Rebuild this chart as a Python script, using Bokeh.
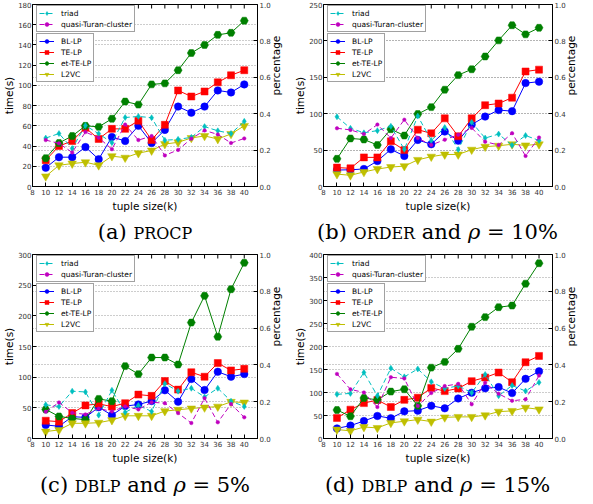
import math
from bokeh.plotting import figure
from bokeh.models import (Range1d, LinearAxis, FixedTicker, PrintfTickFormatter,
                          Grid, Legend, LegendItem, Div)
from bokeh.layouts import column, row
from bokeh.embed import file_html
from bokeh.resources import INLINE

tuple_size = [10, 12, 14, 16, 18, 20, 22, 24, 26, 28, 30, 32, 34, 36, 38, 40]
x_ticks = [8, 10, 12, 14, 16, 18, 20, 22, 24, 26, 28, 30, 32, 34, 36, 38, 40]
pct_ticks = [0.0, 0.2, 0.4, 0.6, 0.8, 1.0]

# (a) PROCP
a_bl = [18.5, 29, 29, 39, 27, 49, 45, 60, 43, 56, 79, 73, 79, 95, 93, 101]
a_te = [26, 40, 45, 58, 47, 57, 57, 65, 46, 61, 95, 89, 94, 103, 110, 115]
a_et = [28, 43, 50, 60, 59, 67, 84, 81, 101, 102, 115, 132, 140, 150, 152, 164]
a_l2 = [10, 21, 22.7, 24, 21, 30, 28.5, 33, 35.6, 42, 43.7, 48, 50, 47, 52, 60]
a_triad = [0.266, 0.291, 0.209, 0.335, 0.29, 0.241, 0.379, 0.385, 0.378, 0.254, 0.259, 0.27, 0.329, 0.306, 0.291, 0.358]
a_quasi = [0.255, 0.237, 0.187, 0.299, 0.268, 0.205, 0.34, 0.255, 0.277, 0.171, 0.201, 0.263, 0.308, 0.286, 0.239, 0.264]
a_time_ticks = [0, 20, 40, 60, 80, 100, 120, 140, 160, 180]

# (b) ORDER, rho = 10%
b_bl = [22.6, 23, 24, 35, 51, 42, 64, 58, 75.5, 63, 85, 96, 105, 103.5, 142, 144]
b_te = [26, 25, 40, 40, 62, 50, 78, 73, 93.6, 69, 93.6, 111.7, 114, 122, 158, 160.5]
b_et = [38, 66, 64.6, 57, 78.7, 70, 99.5, 109, 133, 153, 161, 178.6, 200.7, 221.5, 209, 218]
b_l2 = [17, 15.4, 20, 24, 26.7, 28, 36.6, 41, 44, 44, 50.6, 54.7, 56, 58, 56.5, 58]
b_triad = [0.383, 0.32, 0.295, 0.307, 0.331, 0.204, 0.387, 0.253, 0.324, 0.203, 0.353, 0.266, 0.288, 0.226, 0.28, 0.253]
b_quasi = [0.32, 0.311, 0.288, 0.34, 0.266, 0.367, 0.266, 0.228, 0.257, 0.284, 0.322, 0.246, 0.228, 0.293, 0.168, 0.269]
b_time_ticks = [0, 50, 100, 150, 200, 250]

# (c) DBLP, rho = 5%
c_bl = [22, 20, 35.5, 34.5, 51, 38, 52.8, 55.5, 61, 78.6, 60, 97, 79, 108.8, 100.7, 105]
c_te = [29, 27.5, 41.5, 54, 56.5, 52, 57.6, 71.6, 69.5, 93.7, 79.7, 108, 100.7, 123, 111, 113.6]
c_et = [47.4, 36, 32.8, 30.7, 64.6, 60.8, 118, 105, 132, 132, 120.6, 189, 232.6, 165.9, 243.4, 286.5]
c_l2 = [11.3, 14, 24.8, 24.8, 25.8, 30, 37, 37, 37, 44.7, 46.8, 49, 50.6, 52, 59.8, 58.7]
c_triad = [0.183, 0.174, 0.257, 0.253, 0.127, 0.262, 0.142, 0.18, 0.147, 0.298, 0.257, 0.273, 0.226, 0.273, 0.203, 0.174]
c_quasi = [0.145, 0.196, 0.14, 0.131, 0.163, 0.147, 0.174, 0.158, 0.197, 0.192, 0.138, 0.084, 0.219, 0.088, 0.187, 0.115]
c_time_ticks = [0, 50, 100, 150, 200, 250, 300]

# (d) DBLP, rho = 15%
d_bl = [22, 28, 38, 49, 44, 59, 60.5, 71, 65.6, 87, 99.5, 109, 111.7, 98.7, 129.7, 146]
d_te = [44.7, 62.7, 77, 83.6, 68.5, 84, 88.6, 110, 103, 108.8, 124.7, 132.6, 143.4, 122.5, 165.8, 179.5]
d_et = [62, 48.3, 88, 84, 102, 107, 71, 154, 166.5, 195, 243, 263.8, 285.4, 289, 336.6, 381]
d_l2 = [19.5, 16.6, 25, 23, 34, 37.5, 41, 36.8, 46, 47, 47, 50.5, 58.4, 60, 67, 63.4]
d_triad = [0.24, 0.245, 0.359, 0.232, 0.382, 0.335, 0.378, 0.308, 0.272, 0.286, 0.249, 0.348, 0.232, 0.288, 0.258, 0.305]
d_quasi = [0.351, 0.267, 0.25, 0.171, 0.333, 0.326, 0.177, 0.247, 0.285, 0.297, 0.186, 0.303, 0.243, 0.205, 0.213, 0.342]
d_time_ticks = [0, 50, 100, 150, 200, 250, 300, 350, 400]

time_names = ["BL-LP", "TE-LP", "et-TE-LP", "L2VC"]
time_colors = ["#0000ff", "#ff0000", "#008000", "#bfbf00"]
time_markers = ["circle", "square", "hex", "inverted_triangle"]
time_sizes = [7.5, 7, 8, 8.5]
pct_names = ["triad", "quasi-Turan-cluster"]
pct_colors = ["#00bfbf", "#bf00bf"]
pct_markers = ["diamond", "circle"]
pct_sizes = [6, 3.5]

FONT = "DejaVu Sans"


def style_axis(ax):
    ax.axis_line_color = "black"
    ax.major_tick_line_color = "black"
    ax.major_tick_in = 4
    ax.major_tick_out = 0
    ax.minor_tick_line_color = None
    ax.major_label_text_font = FONT
    ax.major_label_text_font_size = "7px"
    ax.major_label_text_color = "#333333"
    ax.major_label_standoff = 1
    ax.axis_label_text_font = FONT
    ax.axis_label_text_font_size = "10.5px"
    ax.axis_label_text_font_style = "normal"
    ax.axis_label_text_color = "black"
    ax.axis_label_standoff = 0


def style_legend(lg):
    lg.label_text_font = FONT
    lg.label_text_font_size = "7.5px"
    lg.label_text_color = "black"
    lg.label_height = 10
    lg.glyph_height = 10
    lg.glyph_width = 15
    lg.label_standoff = 7
    lg.spacing = 1
    lg.padding = 2
    lg.margin = 0
    lg.border_line_color = "#444444"
    lg.border_line_width = 1
    lg.background_fill_color = "white"
    lg.background_fill_alpha = 1.0


def panel(width, height, bl_left, b_top, ymax, yticks, times, pcts):
    b_bottom = 26
    p = figure(width=width, height=height, x_range=Range1d(8, 42),
               y_range=Range1d(0, ymax), output_backend="svg",
               toolbar_location=None, min_border_left=bl_left,
               min_border_right=26, min_border_top=b_top,
               min_border_bottom=b_bottom)
    p.outline_line_color = "black"
    p.outline_line_alpha = 1.0
    p.background_fill_color = "white"
    p.border_fill_color = "white"
    p.extra_y_ranges = {"pct": Range1d(0, 1)}

    p.xaxis.ticker = FixedTicker(ticks=x_ticks)
    p.xaxis.axis_label = "tuple size(k)"
    p.yaxis.ticker = FixedTicker(ticks=yticks)
    p.yaxis.axis_label = "time(s)"
    for ax in p.xaxis + p.yaxis:
        style_axis(ax)
    p.xaxis.major_label_standoff = 2
    p.xaxis.axis_label_standoff = 2

    ax_r = LinearAxis(y_range_name="pct", ticker=FixedTicker(ticks=pct_ticks),
                      formatter=PrintfTickFormatter(format="%.1f"),
                      axis_label="percentage")
    style_axis(ax_r)
    ax_r.major_label_standoff = 2
    ax_r.axis_label_orientation = math.pi / 2
    ax_r.axis_label_text_baseline = "top"
    ax_r.axis_label_text_align = "center"
    ax_r.axis_label_standoff = 2
    p.add_layout(ax_r, "right")

    # inward tick marks along the top edge of the frame
    p.scatter(x_ticks, [ymax] * len(x_ticks), marker="dash", angle=math.pi / 2,
              size=8, line_color="black", line_width=1)

    p.xgrid.visible = False
    p.ygrid.grid_line_color = "#9a9a9a"
    p.ygrid.grid_line_dash = "1 2"
    p.ygrid.grid_line_width = 1
    g2 = Grid(dimension=1, ticker=FixedTicker(ticks=pct_ticks), y_range_name="pct",
              grid_line_color="#9a9a9a", grid_line_dash="1 2", grid_line_width=1)
    p.add_layout(g2)

    time_items = []
    for name, col, mk, sz, ys in zip(time_names, time_colors, time_markers, time_sizes, times):
        ln = p.line(tuple_size, ys, line_color=col, line_width=1)
        sc = p.scatter(tuple_size, ys, marker=mk, size=sz, fill_color=col,
                       line_color=col, line_width=0.5)
        time_items.append(LegendItem(label=name, renderers=[ln, sc]))
    pct_items = []
    for name, col, mk, sz, ys in zip(pct_names, pct_colors, pct_markers, pct_sizes, pcts):
        ln = p.line(tuple_size, ys, line_color=col, line_width=1, line_dash="5 3",
                    y_range_name="pct")
        sc = p.scatter(tuple_size, ys, marker=mk, size=sz, fill_color=col,
                       line_color=col, line_width=0.5, y_range_name="pct")
        pct_items.append(LegendItem(label=name, renderers=[ln, sc]))

    frame_h = height - b_top - b_bottom
    leg1 = Legend(items=pct_items, location=(4, frame_h - 5 - 25))
    leg2 = Legend(items=time_items, location=(4, frame_h - 33 - 47))
    style_legend(leg1)
    style_legend(leg2)
    p.add_layout(leg1)
    p.add_layout(leg2)
    return p


def caption(label, name, rest, width, height, pad):
    html = ('<div style="width:%dpx;padding-top:%dpx;text-align:center;'
            'font-family:\'DejaVu Serif\';font-size:21px;line-height:22px;'
            'color:black;white-space:nowrap">'
            '%s <span style="font-size:76%%">%s</span>%s</div>'
            % (width, pad, label, name, rest))
    return Div(text=html, width=width, height=height, margin=(0, 0, 0, 0))


WA = 290
WB = 295
pa = panel(WA, 214, 24, 4, 180, a_time_ticks, [a_bl, a_te, a_et, a_l2], [a_triad, a_quasi])
pb = panel(WB, 214, 33, 4, 250, b_time_ticks, [b_bl, b_te, b_et, b_l2], [b_triad, b_quasi])
pc = panel(WA, 218, 24, 6, 300, c_time_ticks, [c_bl, c_te, c_et, c_l2], [c_triad, c_quasi])
pd = panel(WB, 218, 33, 6, 400, d_time_ticks, [d_bl, d_te, d_et, d_l2], [d_triad, d_quasi])

cap_a = caption("(a)", "PROCP", "", WA, 34, 7)
cap_b = caption("(b)", "ORDER", " and <i>&rho;</i> = 10%", WB, 34, 7)
cap_c = caption("(c)", "DBLP", " and <i>&rho;</i> = 5%", WA, 30, 8)
cap_d = caption("(d)", "DBLP", " and <i>&rho;</i> = 15%", WB, 30, 8)

layout = column(row(pa, pb), row(cap_a, cap_b), row(pc, pd), row(cap_c, cap_d))

open("out.html", "w").write(file_html(layout, INLINE))
